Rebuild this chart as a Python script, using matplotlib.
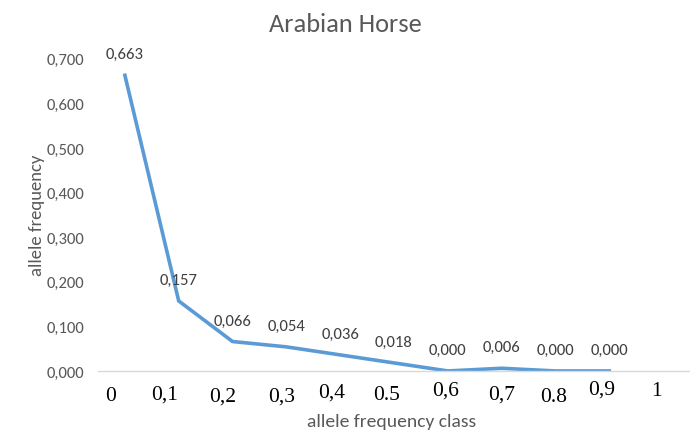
import matplotlib
matplotlib.use("Agg")
import matplotlib.pyplot as plt

# values
classes = ["0", "0,1", "0,2", "0,3", "0,4", "0.5", "0,6", "0,7", "0.8", "0,9", "1"]
freq = [0.663, 0.157, 0.066, 0.054, 0.036, 0.018, 0.000, 0.006, 0.000, 0.000]
y_ticks = [0.0, 0.1, 0.2, 0.3, 0.4, 0.5, 0.6, 0.7]

GREY = "#595959"
BLUE = "#5B9BD5"
SANS = ["Carlito", "DejaVu Sans"]
SERIF = ["Liberation Serif", "DejaVu Serif"]


def fmt(v):
    return f"{v:.3f}".replace(".", ",")


def main():
    fig = plt.figure(figsize=(6.9, 4.31), dpi=100)
    ax = fig.add_axes([0.142, 0.137, 0.858, 0.745])

    xs = list(range(len(freq)))
    ax.plot(xs, freq, color=BLUE, linewidth=2.6, solid_joinstyle="miter")

    for x, v in zip(xs, freq):
        ax.annotate(fmt(v), (x, v), xytext=(0, 10), textcoords="offset points",
                    ha="center", va="bottom", fontsize=12, color="#404040",
                    family=SANS)

    ax.set_xlim(-0.5, 10.5)
    ax.set_ylim(0, 0.72)
    ax.set_yticks(y_ticks)
    ax.set_yticklabels([fmt(v) for v in y_ticks], family=SANS, fontsize=12, color=GREY)
    ax.tick_params(axis="y", length=0, pad=10)
    ax.set_xticks([])

    for s in ["top", "right", "left"]:
        ax.spines[s].set_visible(False)
    ax.spines["bottom"].set_color("#D9D9D9")
    ax.spines["bottom"].set_linewidth(1)

    # x class labels are staggered like pasted text in the original
    shift = [-0.26, -0.26, -0.19, -0.09, -0.15, -0.13, -0.04, 0.0, -0.04, -0.15, -0.13]
    drop = [-11, -9.5, -11.5, -11.5, -8.5, -10, -7, -9.5, -11.5, -6.5, -7]
    for i, lab in enumerate(classes):
        ax.annotate(lab, (i + shift[i], 0), xytext=(0, drop[i]), textcoords="offset points",
                    ha="center", va="top", fontsize=15.5, color="black",
                    family=SERIF, annotation_clip=False)

    fig.text(0.568, 0.02, "allele frequency class", ha="center", va="center",
             fontsize=14, color=GREY, family=SANS)
    fig.text(0.054, 0.5, "allele frequency", ha="center", va="center", rotation=90,
             fontsize=13.5, color=GREY, family=SANS)
    fig.text(0.5, 0.942, "Arabian Horse", ha="center", va="center",
             fontsize=19, color=GREY, family=SANS)

    fig.savefig("out.png", dpi=100)


if __name__ == "__main__":
    main()
